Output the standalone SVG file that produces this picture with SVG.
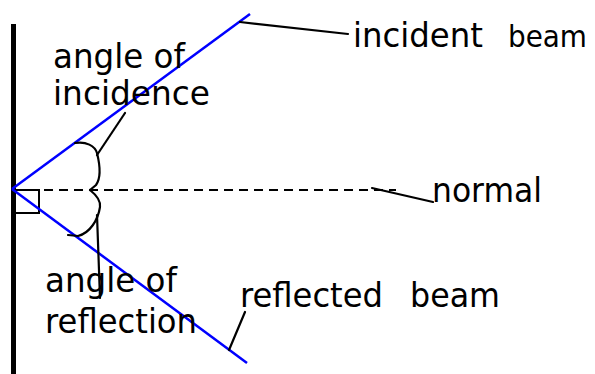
<svg xmlns="http://www.w3.org/2000/svg" width="595" height="374" viewBox="0 0 595 374">
<style>
text{font-family:"DejaVu Sans","Liberation Sans",sans-serif;font-size:34px;fill:#000}
.beam{stroke:#0000ff;stroke-width:2.5;fill:none}
.lead{stroke:#000;stroke-width:2.2;fill:none;stroke-linecap:round}
</style>
<rect width="595" height="374" fill="#fff"/>
<g id="mirror"><line x1="13.5" y1="24" x2="13.5" y2="374" stroke="#000" stroke-width="5"/></g>
<g id="right-angle"><rect x="14" y="190" width="25" height="23" fill="none" stroke="#000" stroke-width="2"/></g>
<g id="normal-line"><line x1="14" y1="190" x2="396" y2="190" stroke="#000" stroke-width="2" stroke-dasharray="9,6"/></g>
<g id="incident-beam"><line class="beam" x1="12" y1="189" x2="250" y2="14"/></g>
<g id="reflected-beam"><line class="beam" x1="12" y1="189" x2="247" y2="363"/></g>
<g id="angle-incidence-brace"><path class="lead" d="M75,143 C86,141 95,146 97,153 C100,165 101,178 96,185 L90,190"/></g>
<g id="angle-reflection-brace"><path class="lead" d="M90,190 C95,194 101,200 100,207 C98,220 90,233 78,236 L68,235"/></g>
<g id="connectors">
<line class="lead" x1="97" y1="155" x2="125" y2="113"/>
<line class="lead" x1="97" y1="215" x2="100" y2="298"/>
<line class="lead" x1="240" y1="22" x2="348" y2="34"/>
<line class="lead" x1="372" y1="188" x2="433" y2="202"/>
<line class="lead" x1="245" y1="312" x2="229" y2="350"/>
</g>
<g id="label-incident"><text x="353" y="47" textLength="130" lengthAdjust="spacingAndGlyphs">incident</text><text x="508" y="47" style="font-size:31px" textLength="79" lengthAdjust="spacingAndGlyphs">beam</text></g>
<g id="label-angle-incidence"><text x="53" y="68" textLength="132" lengthAdjust="spacingAndGlyphs">angle of</text><text x="53" y="105" textLength="157" lengthAdjust="spacingAndGlyphs">incidence</text></g>
<g id="label-normal"><text x="432" y="202" textLength="110" lengthAdjust="spacingAndGlyphs">normal</text></g>
<g id="label-angle-reflection"><text x="45" y="292" textLength="132" lengthAdjust="spacingAndGlyphs">angle of</text><text x="45" y="333" textLength="152" lengthAdjust="spacingAndGlyphs">reflection</text></g>
<g id="label-reflected"><text x="240" y="307" textLength="143" lengthAdjust="spacingAndGlyphs">reflected</text><text x="410" y="307" style="font-size:33px" textLength="90" lengthAdjust="spacingAndGlyphs">beam</text></g>
</svg>
